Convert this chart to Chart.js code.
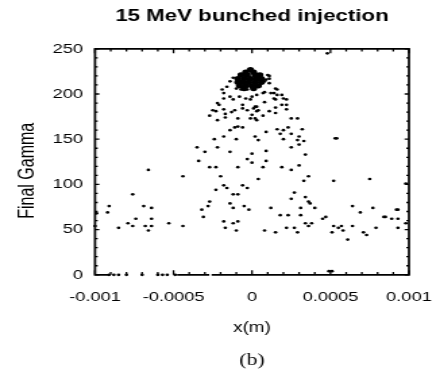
<!DOCTYPE html>
<html><head><meta charset="utf-8">
<script src="https://cdn.jsdelivr.net/npm/chart.js@4.4.0/dist/chart.umd.min.js"></script>
<style>
html,body{margin:0;padding:0;background:#fff;overflow:hidden;}
#wrap{width:326px;height:375px;transform:scaleX(1.3497);transform-origin:0 0;}
canvas{display:block;}
</style></head><body>
<div id="wrap"><canvas id="c" width="326" height="375"></canvas></div>
<script>
const titleText = '15 MeV bunched injection';
const xAxisTitle = 'x(m)';
const yAxisTitle = 'Final Gamma';
const captionText = '(b)';
const xTickValues = [-0.001, -0.0005, 0, 0.0005, 0.001];
const yTickValues = [0, 50, 100, 150, 200, 250];

// scattered macro-particles: x position (m)
const particleX = [
 -0.00066,-0.00044,-0.00076,-0.00091,-0.00092,-0.00069,-0.00064,-0.00074,-0.00064,-0.00079,
 -0.00085,-0.00076,-0.00068,-0.00064,-0.00066,-0.00053,-0.00044,-0.00099,-0.001,
 -0.00091,-0.00088,-0.00085,-0.0008,-0.0007,-0.0006,-0.00057,-0.00054,-0.00049,
 -0.00034,-0.0003,-0.00014,-0.00027,-0.00023,-0.0002,-0.00009,-0.00003,0,0,0.00004,
 -0.00018,-0.00016,-0.00023,-0.00012,-0.00009,-0.00006,-0.00003,-0.00027,-0.00028,-0.00032,
 -0.00031,-0.00014,-0.00012,-0.00005,-0.00002,-0.00018,-0.00017,-0.00012,-0.00009,-0.0001,
 0.00009,0.00009,0.00007,0.00034,0.0003,0.00025,0.00019,0.00036,0.00033,0.00052,0.00075,
 0.00027,0.00025,0.00034,0.00036,0.00037,0.0004,0.00031,0.00012,0.00018,0.00023,0.00031,
 0.00064,0.00069,0.00077,0.00047,0.00045,0.00034,0.00036,0.00038,0.00022,0.00027,0.00029,
 0.00008,0.00015,0.00052,0.00055,0.00057,0.00058,0.00051,0.00064,0.00061,0.00071,0.00073,
 0.00079,0.00084,0.00085,0.00089,0.00092,0.00093,0.00093,0.00093,0.00098,0.00098,0.00049,0.00051,
 0.00011,0.00009,0.00008,0.00011,0.00015,0.00016,0.00012,0.00014,0.00016,0.00019,0.00007,
 0.00008,0.00003,0,0.00014,0.00015,0.0002,0.00022,0.00008,0.00019,0.00022,0.00003,0.00001,
 0.00015,0.00022,0.00011,0.00003,0.00004,0.00007,0,0.00002,0.00015,0.00025,0.00029,0.00009,
 0.00016,0.0002,0.00023,0.00018,0.00025,0.00032,0.00002,0.00004,0.0002,0.0003,0.00029,0.00033,
 0.00025,0.0003,0.00053,0.00054,0.00048,
 -0.00035,-0.00022,-0.00024,-0.00018,-0.0001,-0.00014,-0.00011,-0.00009,-0.00006,-0.00027,
 -0.00022,-0.00025,-0.00023,-0.00022,-0.00021,-0.00018,-0.00017,-0.00017,-0.00013,-0.00011,
 -0.00006,-0.00003,-0.00009,-0.00001,0.00003,-0.00018,-0.00018,-0.00019,-0.00014,-0.00012,
 -0.00008,-0.00004,-0.00001,-0.00016,-0.00014,-0.00012,-0.0001,-0.00007,-0.00003,0.00001,
 -0.00006,0.00002,0.0001,0.00011
];
// scattered macro-particles: final gamma
const particleGamma = [
 116,109,89,76,69,76,74,62,62,57,
 52,54,54,54,49,57,54,68,54,
 0,0,0,0,0,0,0,0,0,
 126,136,136,119,119,109,119,128,134,124,106,
 99,96,94,89,89,99,96,81,76,72,
 64,79,74,76,72,59,52,57,59,49,
 137,126,119,133,121,116,119,109,104,104,106,
 91,84,86,81,79,74,74,74,66,66,66,
 76,69,74,64,62,57,54,57,52,52,47,
 49,47,54,52,54,49,47,54,39,47,44,
 52,64,64,62,72,72,62,52,57,101,4,4,
 220,216,214,212,206,205,201,201,199,199,201,
 202,199,197,195,194,195,194,191,188,188,186,184,
 185,183,181,181,182,176,177,173,179,173,173,158,
 161,160,163,156,156,161,153,149,150,153,149,148,
 141,144,151,151,245,
 141,141,150,153,150,160,163,164,163,176,
 171,182,181,190,188,183,178,174,180,182,
 184,182,173,173,171,195,201,205,197,194,
 197,195,194,208,214,218,206,205,205,205,
 188,186,221,217
];
// dense bunch core (overlapping particles)
const coreX = [-0.00001,-0.00004,0.00001,-0.00007,-0.00003,0.00002,0.00005,
 -0.00009,-0.00005,-0.00001,0.00003,0.00006,-0.00009,-0.00006,-0.00002,0.00002,0.00006,
 -0.00008,-0.00004,0,0.00004,-0.00005,0.00001];
const coreGamma = [227,224,224,221,221,221,221,
 217,217,217,217,217,213,213,213,213,213,
 209,209,209,209,206,206];

const bottomBorderSegments = [[-0.001,-0.00092],[-0.00047,-0.00028],[-0.00025,0.001]];
const xMinorStep = 0.0001, yMinorStep = 10;

const sans = '"Liberation Sans", Arial, Helvetica, sans-serif';
const toPts = (xs, ys) => xs.map((v, i) => ({x: v, y: ys[i]}));

const framePlugin = {
  id: 'frame',
  afterDatasetsDraw(chart) {
    const {ctx, scales: {x, y}} = chart;
    const L = x.getPixelForValue(x.min), R = x.getPixelForValue(x.max);
    const T = y.getPixelForValue(y.max), B = y.getPixelForValue(y.min);
    ctx.save();
    ctx.strokeStyle = '#000';
    ctx.lineWidth = 1.7;
    ctx.lineCap = 'square';
    ctx.beginPath();
    ctx.moveTo(L, B); ctx.lineTo(L, T); ctx.lineTo(R, T); ctx.lineTo(R, B);
    for (const [a, b] of bottomBorderSegments) {
      ctx.moveTo(x.getPixelForValue(a), B); ctx.lineTo(x.getPixelForValue(b), B);
    }
    ctx.stroke();
    ctx.lineWidth = 1.3;
    ctx.lineCap = 'butt';
    ctx.beginPath();
    const nx = Math.round((x.max - x.min) / xMinorStep);
    for (let i = 0; i <= nx; i++) {
      const px = x.getPixelForValue(x.min + i * xMinorStep);
      const len = (i % 5 === 0) ? 4.5 : 2.8;
      ctx.moveTo(px, T); ctx.lineTo(px, T + len);
      ctx.moveTo(px, B); ctx.lineTo(px, B - len);
    }
    const ny = Math.round((y.max - y.min) / yMinorStep);
    for (let j = 0; j <= ny; j++) {
      const py = y.getPixelForValue(y.min + j * yMinorStep);
      const len = (j % 5 === 0) ? 3.2 : 2;
      ctx.moveTo(L, py); ctx.lineTo(L + len, py);
      ctx.moveTo(R, py); ctx.lineTo(R - len, py);
    }
    ctx.stroke();
    // y-axis title, set slightly below the axis centre as in the original
    ctx.fillStyle = '#000';
    ctx.font = '16px ' + sans;
    ctx.textAlign = 'center';
    ctx.textBaseline = 'middle';
    ctx.translate(y.left + 20.2, (T + B) / 2 + 9);
    ctx.rotate(-Math.PI / 2);
    ctx.fillText(yAxisTitle, 0, 0);
    ctx.restore();
  }
};

new Chart(document.getElementById('c'), {
  type: 'scatter',
  data: {
    datasets: [
      {data: toPts(coreX, coreGamma), pointRadius: 2.7, pointBackgroundColor: '#000', pointBorderWidth: 0, clip: false},
      {data: toPts(particleX, particleGamma), pointRadius: 1.35, pointBackgroundColor: '#000', pointBorderWidth: 0, clip: false}
    ]
  },
  options: {
    responsive: false,
    animation: false,
    devicePixelRatio: 1,
    layout: {padding: {left: 0, right: 23, top: 0, bottom: 0}},
    plugins: {
      legend: {display: false},
      tooltip: {enabled: false},
      title: {display: true, text: titleText, fullSize: false, color: '#000',
        font: {family: sans, size: 16.5, weight: 'bold'}, padding: {top: 7, bottom: 22}},
      subtitle: {display: true, text: captionText, position: 'bottom', fullSize: false, color: '#000',
        font: {family: '"Liberation Serif", "Times New Roman", serif', size: 16, weight: 'normal'}, padding: {top: 0, bottom: 5}}
    },
    scales: {
      x: {
        type: 'linear', min: -0.001, max: 0.001,
        afterBuildTicks: s => { s.ticks = xTickValues.map(v => ({value: v})); },
        ticks: {callback: v => String(v), color: '#000', font: {family: sans, size: 13.5}, padding: 3, maxRotation: 0, autoSkip: false},
        grid: {display: false, drawTicks: true, tickLength: 11},
        border: {display: false},
        title: {display: true, text: xAxisTitle, color: '#000', font: {family: sans, size: 14}, padding: {top: 0, bottom: 14}},
        afterFit: s => { s.height = 76; }
      },
      y: {
        min: 0, max: 250,
        afterBuildTicks: s => { s.ticks = yTickValues.map(v => ({value: v})); },
        ticks: {callback: v => String(v), color: '#000', font: {family: sans, size: 13.5}, padding: 9},
        grid: {display: false, drawTicks: false, tickLength: 0},
        border: {display: false},
        title: {display: false, text: yAxisTitle},
        afterFit: s => { s.width = 70.4; }
      }
    }
  },
  plugins: [framePlugin]
});
</script>
</body></html>
